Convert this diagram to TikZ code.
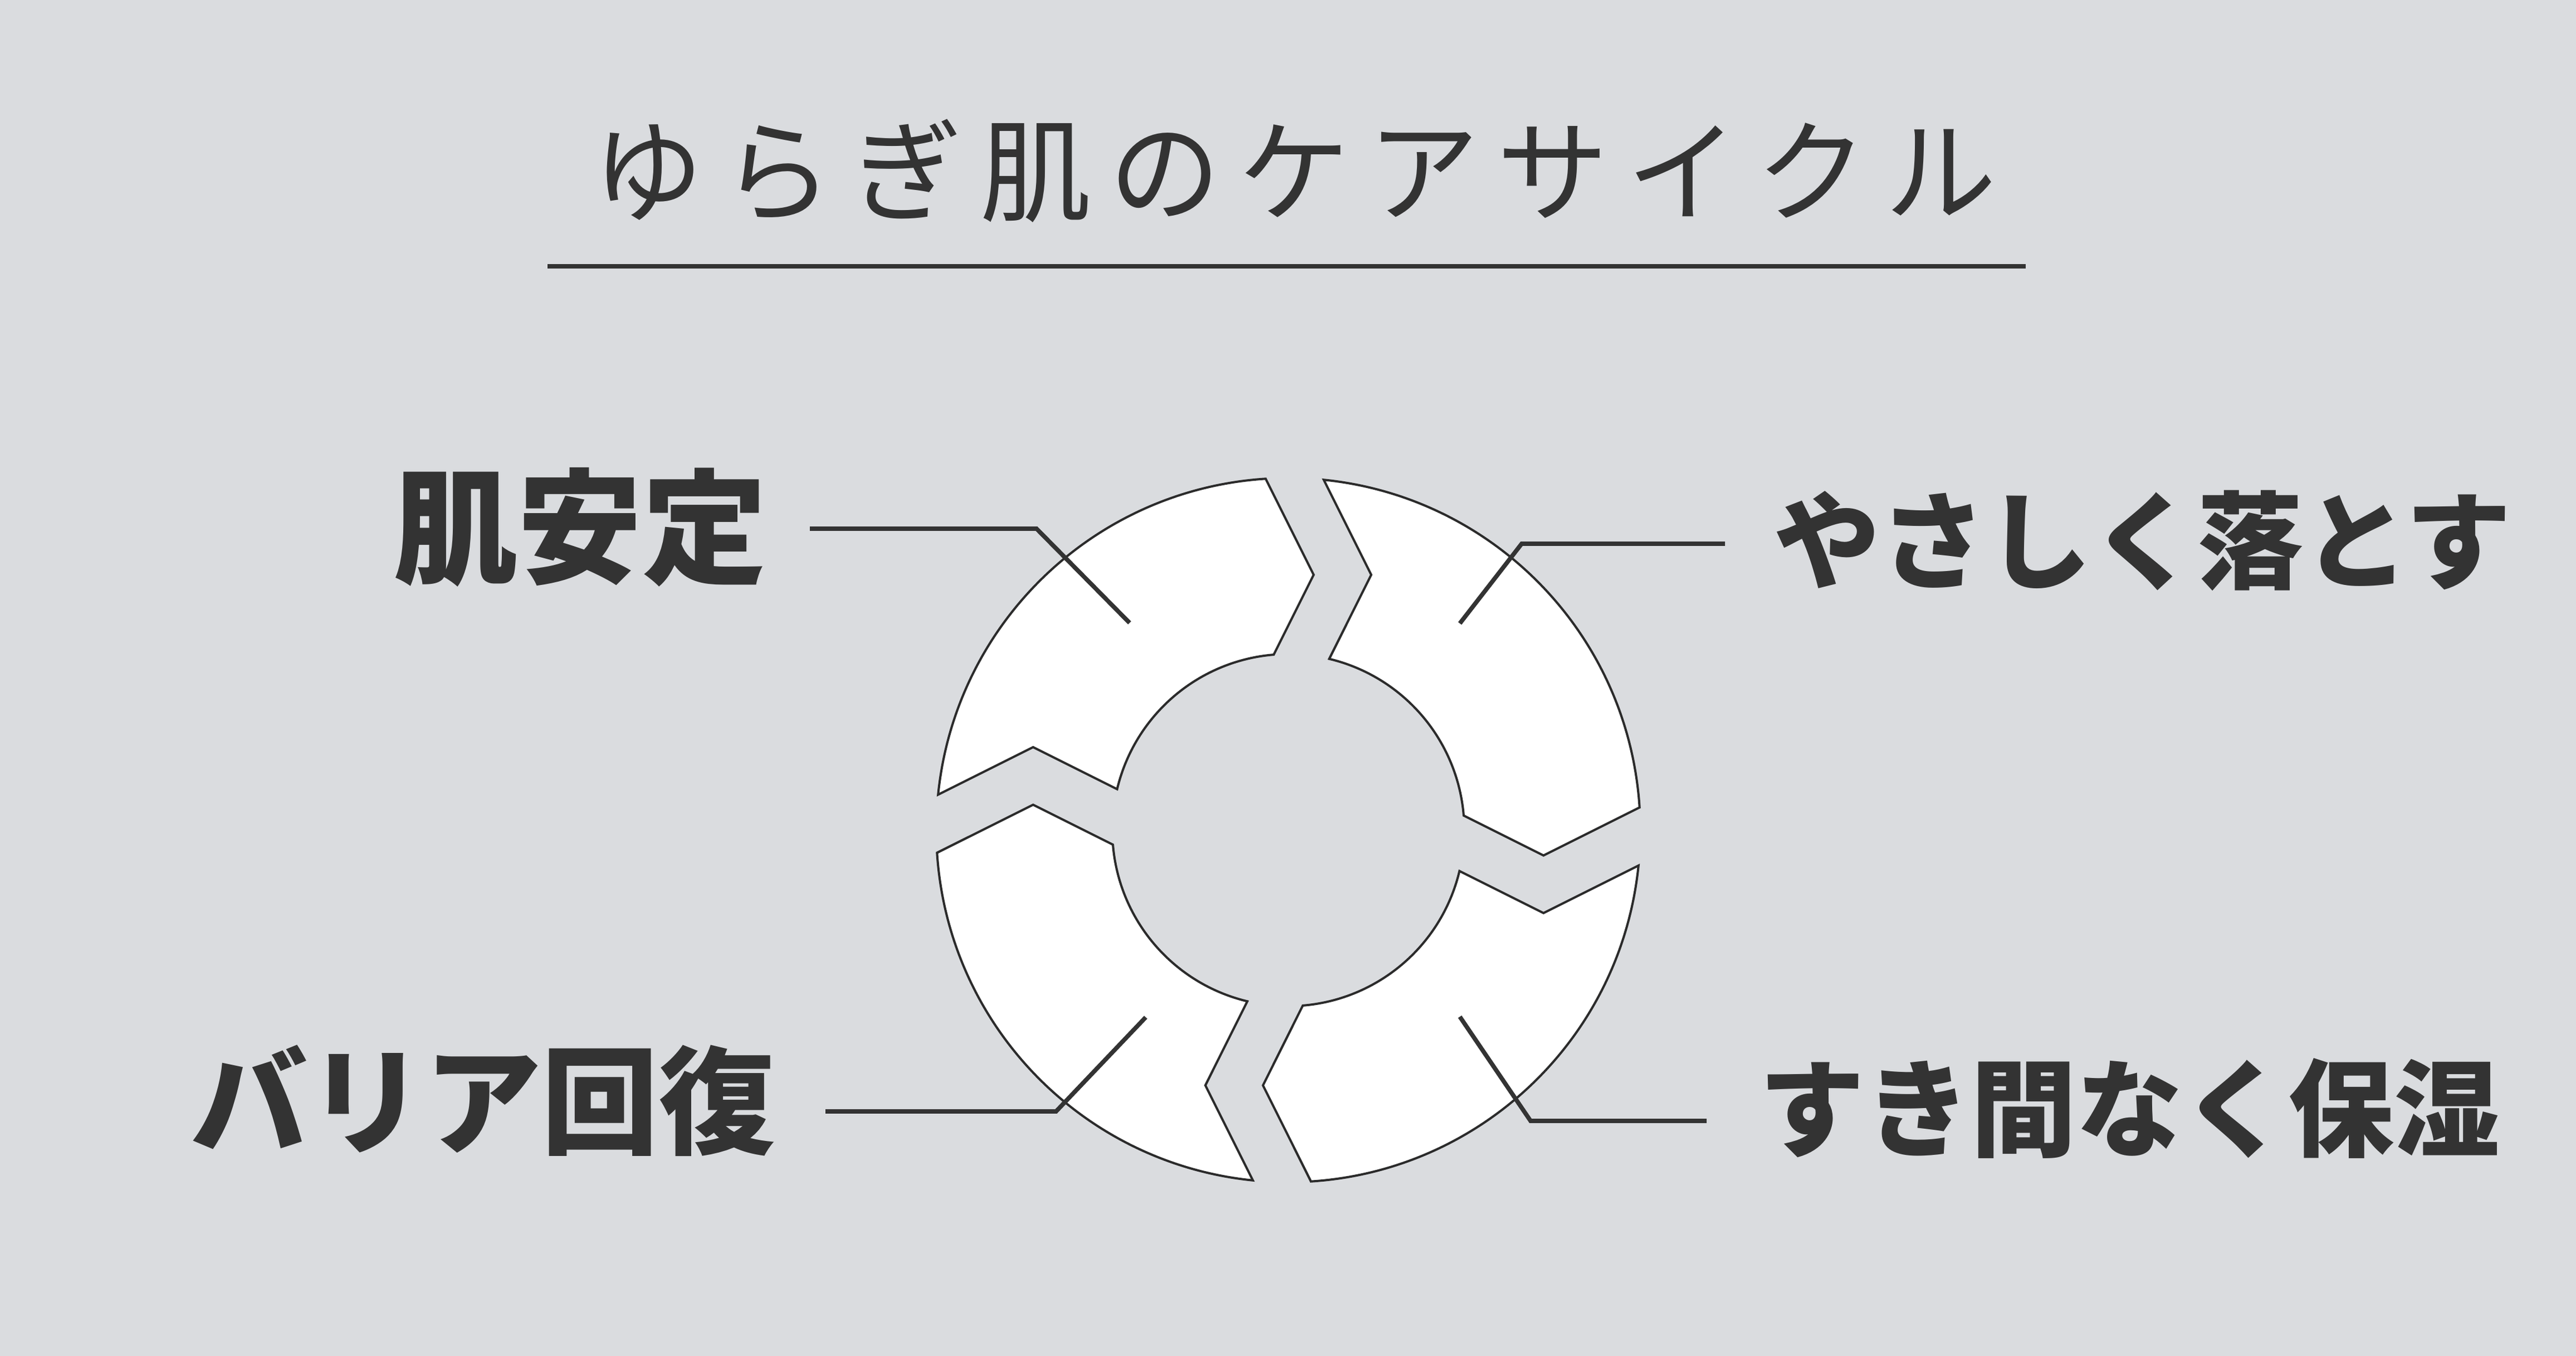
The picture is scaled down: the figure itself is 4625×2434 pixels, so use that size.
\documentclass[tikz,border=0pt]{standalone}
\usepackage{fontspec}
\newfontfamily\jp{Noto Sans CJK JP}
\usetikzlibrary{calc}
\definecolor{bgc}{HTML}{DADCDF}
\definecolor{inkc}{HTML}{333333}
\definecolor{edgec}{HTML}{2B2B2B}
\newcommand\ttlsp{\kern9pt}
\begin{document}
\begin{tikzpicture}[x=0.01cm,y=0.01cm,
  seg/.style={draw=edgec, fill=white, line width=1.15pt, line join=miter},
  leader/.style={draw=inkc, line width=2.2pt, line join=miter},
  lbl/.style={inner sep=0pt, text=inkc},
]
\fill[bgc] (0,0) rectangle (4625,-2434);
\useasboundingbox (0,0) rectangle (4625,-2434);

% title
\node[lbl, font=\jp\fontsize{57pt}{60pt}\selectfont] (title) at (2324,-307)
  {ゆ\ttlsp ら\ttlsp ぎ\ttlsp 肌\ttlsp の\ttlsp ケ\ttlsp ア\ttlsp サ\ttlsp イ\ttlsp ク\ttlsp ル};
\coordinate (ulA) at (983,-478);
\coordinate (ulB) at (3637,-478);
\draw[leader] (ulA) -- (ulB);

% ring of four arrows
\coordinate (C) at (2313,-1490);
\foreach \r in {0,-90,-180,-270} {
  \begin{scope}[shift={(C)}, rotate=\r]
    \draw[seg] (174.22:632) arc[start angle=174.22, end angle=93.69, radius=632]
      -- (45.5,458.2) -- (94.74:316)
      arc[start angle=94.74, end angle=166.55, radius=316]
      -- (-458.2,148.9) -- cycle;
  \end{scope}
}

% labels
\node[lbl, font=\jp\bfseries\fontsize{63.5pt}{66pt}\selectfont, anchor=east] (hada) at (1377,-946) {肌安定};
\node[lbl, font=\jp\bfseries\fontsize{59.7pt}{62pt}\selectfont, anchor=east] (barrier) at (1393,-1976) {バリア回復};
\node[lbl, font=\jp\bfseries\fontsize{54pt}{57pt}\selectfont, anchor=west] (otosu) at (3185,-970) {やさしく落とす};
\node[lbl, font=\jp\bfseries\fontsize{54pt}{57pt}\selectfont, anchor=west] (hoshitsu) at (3158,-1990) {すき間なく保湿};

% leader lines
\coordinate (a1) at (1454,-949);  \coordinate (a2) at (1861,-949);  \coordinate (a3) at (2028,-1118);
\coordinate (b1) at (3097,-976);  \coordinate (b2) at (2732,-976);  \coordinate (b3) at (2621,-1119);
\coordinate (c1) at (1482,-1995); \coordinate (c2) at (1896,-1995); \coordinate (c3) at (2057,-1826);
\coordinate (d1) at (3064,-2012); \coordinate (d2) at (2748,-2012); \coordinate (d3) at (2621,-1825);
\draw[leader] (a1) -- (a2) -- (a3);
\draw[leader] (b1) -- (b2) -- (b3);
\draw[leader] (c1) -- (c2) -- (c3);
\draw[leader] (d1) -- (d2) -- (d3);
\end{tikzpicture}
\end{document}
